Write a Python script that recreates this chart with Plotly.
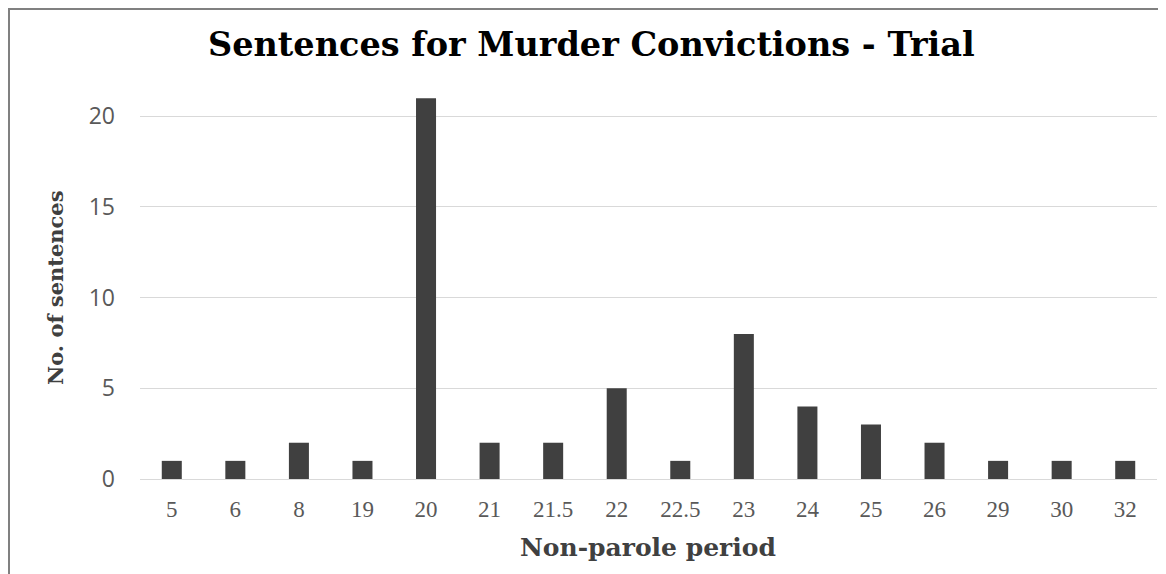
import plotly.graph_objects as go

categories = ["5", "6", "8", "19", "20", "21", "21.5", "22", "22.5", "23", "24", "25", "26", "29", "30", "32"]
counts = [1, 1, 2, 1, 21, 2, 2, 5, 1, 8, 4, 3, 2, 1, 1, 1]
y_ticks = [0, 5, 10, 15, 20]

OFF = 8  # page body margin
W, H = 1166 - OFF, 574 - OFF
# plot area in page pixels
PL, PR, PT, PB = 140, 1157, 80, 479
L, R, T, B = PL - OFF, PR - OFF, PT - OFF, PB - OFF


def px(xp):
    return (xp - OFF - L) / (R - L)


def py(yp):
    return (B - (yp - OFF)) / (B - T)


fig = go.Figure()
fig.add_trace(go.Bar(x=categories, y=counts, marker=dict(color="#404040", line=dict(width=0)),
                     width=0.315, showlegend=False))

fig.update_layout(
    width=W, height=H,
    margin=dict(l=L, r=W - R, t=T, b=H - B, pad=0),
    paper_bgcolor="white", plot_bgcolor="white",
    xaxis=dict(type="category", showgrid=False, zeroline=False, showline=False,
               ticks="", tickfont=dict(family="Liberation Serif", size=23, color="#595959"),
               ticklabelstandoff=14),
    yaxis=dict(range=[0, 22], tickvals=y_ticks, showgrid=True, gridcolor="#d9d9d9", gridwidth=1,
               zeroline=True, zerolinecolor="#d9d9d9", zerolinewidth=1, showline=False, ticks="",
               tickfont=dict(family="Open Sans", size=23, color="#595959"), ticklabelstandoff=24),
    annotations=[
        dict(text="<b>Sentences for Murder Convictions - Trial</b>", xref="paper", yref="paper",
             x=px(591), y=py(45), xanchor="center", yanchor="middle", showarrow=False,
             font=dict(family="DejaVu Serif", size=33.5, color="#000000")),
        dict(text="<b>Non-parole period</b>", xref="paper", yref="paper",
             x=px(648), y=py(547), xanchor="center", yanchor="middle",
             showarrow=False, font=dict(family="DejaVu Serif", size=25, color="#404040")),
        dict(text="<b>No. of sentences</b>", xref="paper", yref="paper", textangle=-90,
             x=px(55), y=py(288), xanchor="center", yanchor="middle",
             showarrow=False, font=dict(family="DejaVu Serif", size=21, color="#404040")),
    ],
    shapes=[
        dict(type="line", xref="paper", yref="paper", x0=px(OFF), x1=px(1166),
             y0=py(OFF + 1), y1=py(OFF + 1), line=dict(color="#808080", width=2)),
        dict(type="line", xref="paper", yref="paper", x0=px(OFF + 1), x1=px(OFF + 1),
             y0=py(OFF), y1=py(574), line=dict(color="#808080", width=2)),
    ],
)

fig.write_html("out.html")
